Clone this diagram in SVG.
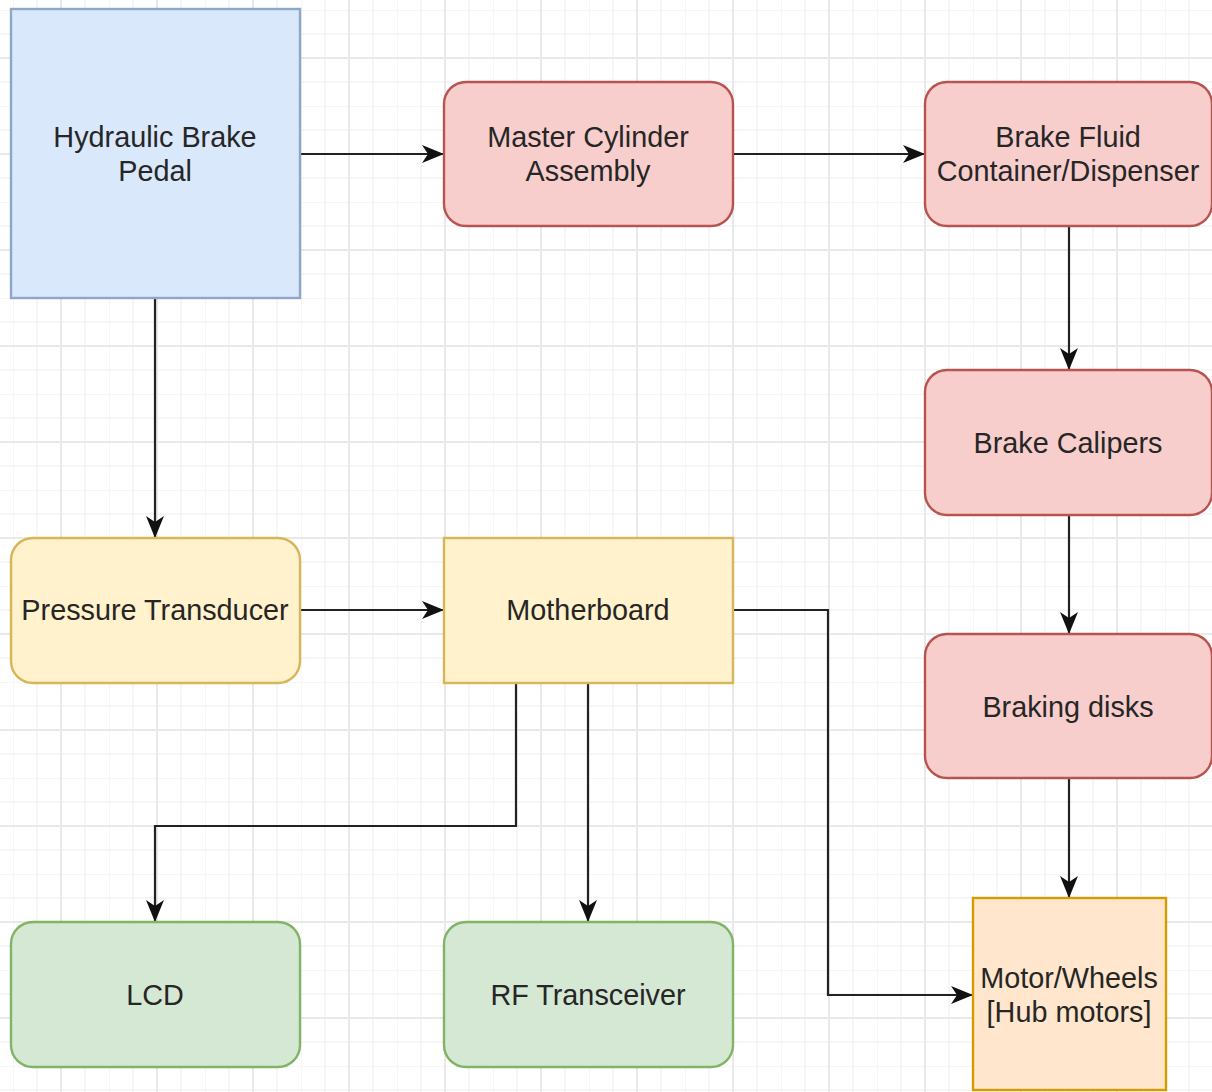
<svg xmlns="http://www.w3.org/2000/svg" width="1212" height="1092" viewBox="0 0 1212 1092">
<style>
.lbl{font-family:"Liberation Sans",Arial,sans-serif;font-size:28.8px;fill:#262626;text-anchor:middle;dominant-baseline:central}
.blue{fill:#dae8fc;stroke:#8ea6c9;stroke-width:2.4}
.red{fill:#f8cecc;stroke:#b85450;stroke-width:2.4}
.yel{fill:#fff2cc;stroke:#d6b656;stroke-width:2.4}
.grn{fill:#d5e8d4;stroke:#82b366;stroke-width:2.4}
.org{fill:#ffe6cc;stroke:#d79b00;stroke-width:2.4}
.edge{fill:none;stroke:#222;stroke-width:2.2;marker-end:url(#arr)}
</style>
<defs>
<pattern id="grid" x="13" y="10" width="96" height="96" patternUnits="userSpaceOnUse">
<path d="M0 0V96M24 0V96M72 0V96M0 0H96M0 24H96M0 72H96" stroke="#f3f3f3" stroke-width="1.5" fill="none"/>
<path d="M48 0V96M0 48H96" stroke="#e9e9e9" stroke-width="2" fill="none"/>
</pattern>
<marker id="arr" markerWidth="22" markerHeight="20" refX="21" refY="10" orient="auto" markerUnits="userSpaceOnUse" viewBox="0 0 22 20">
<path d="M0 1L22 10L0 19L6 10Z" fill="#111"/>
</marker>
</defs>
<rect width="1212" height="1092" fill="#fff"/>
<rect width="1212" height="1092" fill="url(#grid)"/>
<g id="connectors">
<path class="edge" d="M300 154H443"/>
<path class="edge" d="M733 154H924"/>
<path class="edge" d="M1069 226V369"/>
<path class="edge" d="M1069 515V633"/>
<path class="edge" d="M1069 778V897"/>
<path class="edge" d="M155 298V537"/>
<path class="edge" d="M300 610H443"/>
<path class="edge" d="M516 683V826H155V921"/>
<path class="edge" d="M588 683V921"/>
<path class="edge" d="M733 610H828V995H972"/>
</g>
<g id="hydraulic"><rect class="blue" x="11" y="9" width="289" height="289"/><text class="lbl" x="155" y="137">Hydraulic Brake</text><text class="lbl" x="155" y="171">Pedal</text></g>
<g id="master"><rect class="red" x="444" y="82" width="289" height="144" rx="22"/><text class="lbl" x="588" y="137">Master Cylinder</text><text class="lbl" x="588" y="171">Assembly</text></g>
<g id="fluid"><rect class="red" x="925" y="82" width="287" height="144" rx="22"/><text class="lbl" x="1068" y="137">Brake Fluid</text><text class="lbl" x="1068" y="171">Container/Dispenser</text></g>
<g id="calipers"><rect class="red" x="925" y="370" width="287" height="145" rx="22"/><text class="lbl" x="1068" y="443">Brake Calipers</text></g>
<g id="disks"><rect class="red" x="925" y="634" width="287" height="144" rx="22"/><text class="lbl" x="1068" y="707">Braking disks</text></g>
<g id="pressure"><rect class="yel" x="11" y="538" width="289" height="145" rx="22"/><text class="lbl" x="155" y="610">Pressure Transducer</text></g>
<g id="motherboard"><rect class="yel" x="444" y="538" width="289" height="145"/><text class="lbl" x="588" y="610">Motherboard</text></g>
<g id="lcd"><rect class="grn" x="11" y="922" width="289" height="145" rx="22"/><text class="lbl" x="155" y="995">LCD</text></g>
<g id="rf"><rect class="grn" x="444" y="922" width="289" height="145" rx="22"/><text class="lbl" x="588" y="995">RF Transceiver</text></g>
<g id="motor"><rect class="org" x="973" y="898" width="193" height="192"/><text class="lbl" x="1069" y="978">Motor/Wheels</text><text class="lbl" x="1069" y="1012">[Hub motors]</text></g>
</svg>
